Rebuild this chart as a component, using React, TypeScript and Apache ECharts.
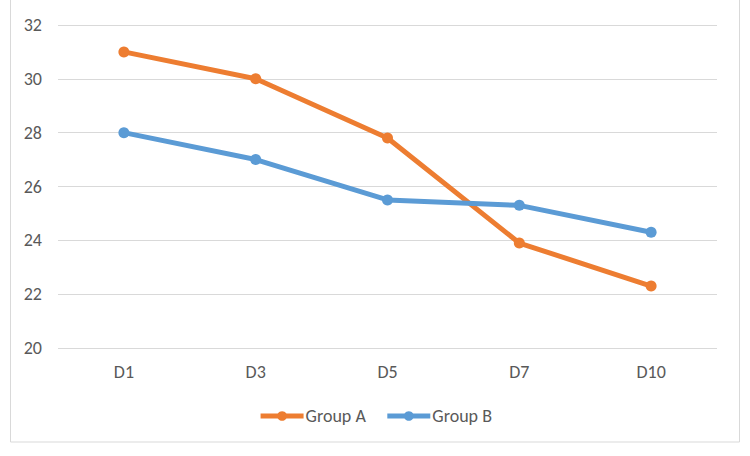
import React, { useEffect, useRef } from "react";
import * as echarts from "echarts";

const categories = ["D1", "D3", "D5", "D7", "D10"];
const groupA = [31, 30, 27.8, 23.9, 22.3];
const groupB = [28, 27, 25.5, 25.3, 24.3];
const yMin = 20;
const yMax = 32;
const yInterval = 2;

const FONT = "Carlito, 'Liberation Sans Narrow', 'Noto Sans', sans-serif";

export default function App() {
  const ref = useRef<HTMLDivElement>(null);
  useEffect(() => {
    const chart = echarts.init(ref.current!, null, { renderer: "svg" });
    chart.setOption({
      animation: false,
      backgroundColor: "#ffffff",
      grid: { left: 58, right: 33, top: 25, bottom: 108, containLabel: false },
      graphic: [
        {
          type: "rect",
          shape: { x: 10.5, y: -2, width: 729, height: 444 },
          style: { fill: "none", stroke: "#d9d9d9", lineWidth: 1 },
          silent: true,
        },
      ],
      legend: {
        top: 402,
        left: "center",
        itemWidth: 43,
        itemHeight: 12,
        itemGap: 19,
        lineStyle: { width: 5 },
        textStyle: { color: "#595959", fontSize: 18, fontFamily: FONT, padding: [0, 0, 0, -3] },
        data: ["Group A", "Group B"],
      },
      xAxis: {
        type: "category",
        data: categories,
        boundaryGap: true,
        axisLine: { show: false },
        axisTick: { show: false },
        axisLabel: { color: "#595959", fontSize: 18, fontFamily: FONT, margin: 15 },
      },
      yAxis: {
        type: "value",
        min: yMin,
        max: yMax,
        interval: yInterval,
        axisLine: { show: false },
        axisTick: { show: false },
        axisLabel: { color: "#595959", fontSize: 18, fontFamily: FONT, margin: 16 },
        splitLine: { lineStyle: { color: "#d9d9d9", width: 1 } },
      },
      series: [
        {
          name: "Group A",
          type: "line",
          data: groupA,
          symbol: "circle",
          symbolSize: 11,
          color: "#ED7D31",
          lineStyle: { width: 5, color: "#ED7D31" },
          itemStyle: { color: "#ED7D31" },
        },
        {
          name: "Group B",
          type: "line",
          data: groupB,
          symbol: "circle",
          symbolSize: 11,
          color: "#5B9BD5",
          lineStyle: { width: 5, color: "#5B9BD5" },
          itemStyle: { color: "#5B9BD5" },
        },
      ],
    });
    return () => chart.dispose();
  }, []);
  return <div ref={ref} style={{ width: 750, height: 456, position: "absolute", left: 0, top: 0 }} />;
}
